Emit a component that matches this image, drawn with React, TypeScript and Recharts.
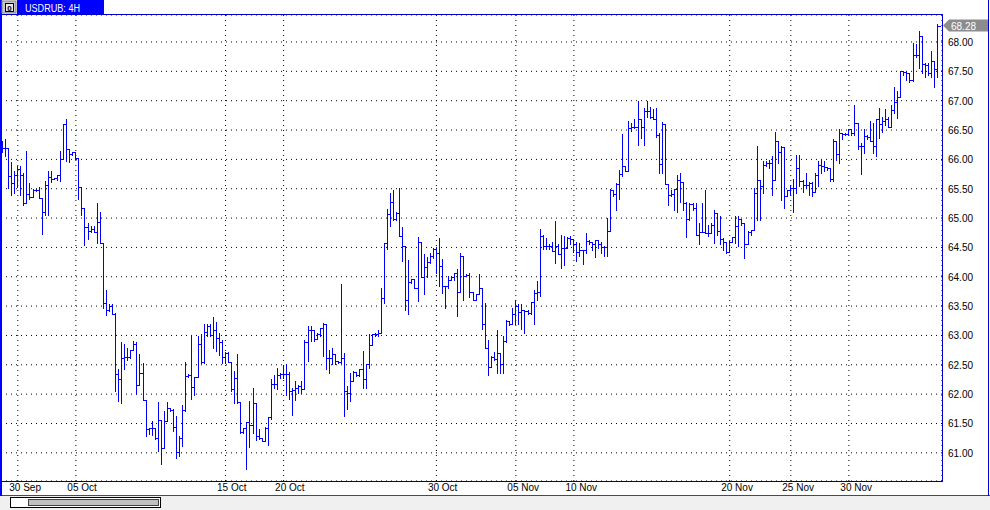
import React from 'react';
import { ComposedChart, Bar, XAxis, YAxis, CartesianGrid, ReferenceLine } from 'recharts';

const opens = [
66.26,66.20,66.20,65.72,65.59,65.74,65.84,65.74,65.25,65.41,
65.36,65.48,65.48,65.35,65.11,65.56,65.70,65.67,65.69,65.74,
66.01,66.60,66.17,66.10,66.13,66.03,65.53,65.18,64.85,64.78,
64.82,64.77,64.94,64.57,63.55,63.44,63.50,63.36,62.34,62.26,
62.62,62.64,62.64,62.75,62.86,62.16,62.36,61.90,61.40,61.43,61.43,61.26,
61.56,61.09,61.54,61.76,61.73,61.44,61.01,61.26,61.73,62.31,
62.32,62.12,62.30,62.85,62.55,63.06,63.16,63.00,63.10,62.96,
62.89,62.64,62.70,62.55,62.09,62.28,61.87,61.35,61.43,61.52,
61.47,61.85,61.28,61.26,61.21,61.43,61.61,62.18,62.18,62.32,
62.35,62.35,62.34,62.06,62.07,62.11,62.14,62.09,62.88,63.10,
63.09,62.94,63.03,63.12,63.20,62.62,62.61,62.68,62.56,62.55,
62.62,62.05,62.02,62.22,62.38,62.32,62.42,62.25,62.52,62.84,
63.02,63.02,63.05,63.64,64.57,65.07,65.27,64.99,65.09,64.70,
64.53,63.61,63.91,63.97,63.81,64.59,64.00,64.17,64.25,64.35,
64.48,64.40,64.19,63.85,63.84,63.95,63.99,64.07,63.74,64.36,
64.01,64.03,63.74,63.61,63.70,63.80,63.20,62.78,62.47,62.63,
62.60,62.70,62.52,62.91,63.24,63.20,63.37,63.50,63.40,63.43,
63.41,63.39,63.57,63.73,63.74,64.69,64.52,64.52,64.53,64.44,
64.53,64.38,64.49,64.49,64.66,64.65,64.55,64.43,64.45,64.45,
64.61,64.59,64.55,64.62,64.56,64.51,64.51,64.78,65.48,65.41,
65.58,65.75,65.88,65.81,66.53,66.56,66.56,66.69,66.55,66.83,
66.82,66.72,66.68,66.42,65.92,66.60,65.58,65.40,65.41,
65.49,65.65,65.61,65.26,64.99,65.24,65.17,64.72,64.76,64.77,
64.74,64.74,64.89,65.09,64.78,64.65,64.60,64.43,64.60,64.67,
64.86,64.99,64.91,64.55,64.76,64.80,65.43,65.65,65.54,
65.90,65.94,65.93,65.65,66.32,66.12,66.21,65.38,65.48,65.51,
65.51,65.86,65.63,65.56,65.56,65.60,65.44,65.74,65.91,65.89,
65.87,65.86,65.66,66.31,66.10,66.45,66.44,66.43,66.51,66.45,
66.62,66.23,66.23,66.39,66.38,66.32,66.23,66.68,66.60,66.65,
66.68,66.55,66.84,66.97,67.06,67.50,67.49,67.47,67.36,67.78,
67.77,68.10,67.63,67.61,67.48,67.68,67.54,
];

const highs = [
66.31,66.34,66.20,65.95,65.80,65.88,65.89,65.76,66.15,65.59,
65.50,65.49,65.53,65.35,65.64,65.80,65.81,65.69,65.74,66.15,
66.60,66.68,66.17,66.13,66.13,66.03,65.53,65.18,64.92,64.86,
64.86,65.26,65.10,64.57,63.77,63.53,63.53,63.38,62.43,62.88,
62.85,62.78,62.76,62.91,62.88,62.69,62.53,61.90,61.43,61.55,61.43,61.86,
61.56,61.71,61.86,61.77,61.74,61.63,61.28,61.81,62.55,62.34,
62.99,62.30,62.99,63.02,63.19,63.20,63.19,63.31,63.23,63.05,
62.93,62.72,62.72,62.55,62.40,62.68,61.87,61.43,61.53,61.89,
62.11,61.85,61.41,61.26,61.44,61.61,62.25,62.32,62.44,62.36,
62.48,62.52,62.38,62.11,62.23,62.15,62.22,62.93,63.16,63.16,
63.07,63.04,63.13,63.22,63.20,62.76,62.79,62.68,62.57,63.88,
62.70,62.14,62.36,62.39,62.38,62.42,62.73,62.52,63.03,63.03,
63.05,63.09,63.81,64.58,65.15,65.43,65.47,65.10,65.52,64.84,
64.53,64.28,63.97,63.97,64.68,64.59,64.39,64.34,64.41,64.49,
64.49,64.66,64.30,63.85,64.01,64.02,64.07,64.14,64.41,64.36,
64.04,64.07,63.74,63.70,64.04,63.80,63.56,62.93,62.65,62.72,
63.09,62.70,62.99,63.27,63.24,63.47,63.61,63.53,63.53,63.44,
63.44,63.57,63.78,63.93,64.82,64.72,64.66,64.55,64.59,64.95,
64.55,64.72,64.69,64.67,64.69,64.65,64.60,64.57,64.46,64.74,
64.63,64.60,64.63,64.63,64.60,64.52,65.00,65.50,65.48,65.60,
65.82,66.43,65.88,66.66,66.62,66.68,66.99,66.68,66.88,66.99,
66.90,66.86,66.88,66.45,66.64,66.60,65.58,65.48,65.50,
65.74,65.77,65.61,65.28,65.26,65.26,65.26,64.91,65.26,65.48,
64.89,64.91,65.14,65.09,65.03,64.66,64.60,64.61,64.67,65.03,
65.03,64.99,64.91,64.78,64.80,65.51,66.22,65.65,65.97,
65.97,65.99,66.06,66.47,66.32,66.22,66.21,65.48,65.57,65.66,
66.08,66.08,65.65,65.77,65.61,65.61,65.77,65.97,66.01,65.97,
65.87,65.86,66.34,66.31,66.51,66.45,66.45,66.52,66.51,66.92,
66.62,66.28,66.51,66.42,66.66,66.62,66.68,66.88,66.73,66.86,
66.73,66.93,67.24,67.16,67.50,67.51,67.50,67.47,67.98,67.97,
68.19,68.10,67.64,67.65,67.84,67.68,68.31,
];

const lows = [
66.13,66.06,65.52,65.39,65.43,65.53,65.39,65.23,65.25,65.32,
65.36,65.46,65.35,64.73,65.05,65.06,65.62,65.66,65.65,65.64,
66.01,65.97,65.95,66.07,66.01,65.33,65.05,64.54,64.65,64.76,
64.76,64.58,64.57,63.47,63.35,63.41,63.36,62.05,61.88,61.85,
62.43,62.58,62.62,62.75,62.01,62.16,61.90,61.28,61.32,61.30,61.24,61.03,
60.81,61.09,61.54,61.72,61.37,60.91,60.94,61.11,61.71,62.30,
61.91,61.98,62.30,62.53,62.53,62.99,62.99,62.79,62.73,62.66,
62.53,62.53,62.55,62.06,61.85,61.85,61.34,61.34,60.73,61.10,
61.33,61.22,61.23,61.20,61.20,61.13,61.58,62.11,62.09,62.28,
62.27,61.99,61.91,61.65,61.90,62.02,62.02,62.09,62.56,62.90,
62.90,62.94,62.99,62.65,62.42,62.36,62.51,62.51,62.53,62.53,
61.62,61.74,61.88,62.22,62.31,62.31,62.11,62.11,62.45,62.84,
62.99,62.99,63.05,63.56,64.47,64.86,64.97,64.97,64.70,64.27,
63.43,63.37,63.90,63.81,63.59,64.00,63.70,64.00,64.24,64.32,
64.07,63.84,63.73,63.47,63.81,63.95,63.95,63.33,63.74,63.60,
64.01,63.66,63.60,63.60,63.70,63.11,62.78,62.32,62.47,62.59,
62.36,62.36,62.36,62.88,63.18,63.20,63.20,63.20,63.11,63.05,
63.36,63.37,63.20,63.61,63.68,64.47,64.47,64.47,64.44,64.24,
64.38,64.15,64.20,64.49,64.55,64.43,64.26,64.35,64.22,64.40,
64.55,64.46,64.33,64.49,64.40,64.35,64.35,64.78,65.37,65.14,
65.33,65.71,65.80,65.81,66.48,66.53,66.25,66.36,66.25,66.72,
66.70,66.68,66.38,65.77,65.77,65.58,65.23,65.37,65.14,
65.11,65.28,65.14,64.68,64.97,65.14,64.72,64.55,64.76,64.74,
64.69,64.74,64.57,64.72,64.55,64.46,64.40,64.43,64.59,64.57,
64.52,64.89,64.32,64.55,64.72,64.80,64.97,64.97,65.43,
65.89,65.85,65.40,65.65,65.94,65.31,65.17,65.38,65.40,65.10,
65.43,65.54,65.45,65.51,65.40,65.38,65.44,65.54,65.77,65.80,
65.82,65.63,65.63,65.99,65.94,66.35,66.42,66.42,66.42,66.42,
66.18,65.75,66.11,66.34,66.31,66.11,66.05,66.36,66.47,66.59,
66.55,66.55,66.79,66.70,67.06,67.44,67.36,67.31,67.33,67.74,
67.56,67.47,67.41,67.43,67.41,67.23,67.41,
];

const closes = [
66.20,66.20,65.72,65.59,65.74,65.84,65.74,65.25,65.41,65.36,
65.48,65.48,65.35,65.11,65.56,65.70,65.67,65.69,65.74,66.01,
66.60,66.17,66.10,66.13,66.03,65.53,65.18,64.85,64.78,64.82,
64.77,64.94,64.57,63.55,63.44,63.50,63.36,62.34,62.26,62.62,
62.64,62.64,62.75,62.86,62.16,62.36,61.90,61.40,61.43,61.43,61.26,61.56,
61.09,61.54,61.76,61.73,61.44,61.01,61.26,61.73,62.31,62.32,
62.12,62.30,62.85,62.55,63.06,63.16,63.00,63.10,62.96,62.89,
62.64,62.70,62.55,62.09,62.28,61.87,61.35,61.43,61.52,61.47,
61.85,61.28,61.26,61.21,61.43,61.61,62.18,62.18,62.32,62.35,
62.35,62.34,62.06,62.07,62.11,62.14,62.09,62.88,63.10,63.09,
62.94,63.03,63.12,63.20,62.62,62.61,62.68,62.56,62.55,62.62,
62.05,62.02,62.22,62.38,62.32,62.42,62.25,62.52,62.84,63.02,
63.02,63.05,63.64,64.57,65.07,65.27,64.99,65.09,64.70,64.53,
63.61,63.91,63.97,63.81,64.59,64.00,64.17,64.25,64.35,64.48,
64.40,64.19,63.85,63.84,63.95,63.99,64.07,63.74,64.36,64.01,
64.03,63.74,63.61,63.70,63.80,63.20,62.78,62.47,62.63,62.60,
62.70,62.52,62.91,63.24,63.20,63.37,63.50,63.40,63.43,63.41,
63.39,63.57,63.73,63.74,64.69,64.52,64.52,64.53,64.44,64.53,
64.38,64.49,64.49,64.66,64.65,64.55,64.43,64.45,64.45,64.61,
64.59,64.55,64.62,64.56,64.51,64.51,64.78,65.48,65.41,65.58,
65.75,65.88,65.81,66.53,66.56,66.56,66.69,66.55,66.83,66.82,
66.72,66.68,66.42,65.92,66.60,65.58,65.40,65.41,65.49,
65.65,65.61,65.26,64.99,65.24,65.17,64.72,64.76,64.77,64.74,
64.74,64.89,65.09,64.78,64.65,64.60,64.43,64.60,64.67,64.86,
64.99,64.91,64.55,64.76,64.80,65.43,65.65,65.54,65.90,
65.94,65.93,65.65,66.32,66.12,66.21,65.38,65.48,65.51,65.51,
65.86,65.63,65.56,65.56,65.60,65.44,65.74,65.91,65.89,65.87,
65.86,65.66,66.31,66.10,66.45,66.44,66.43,66.51,66.45,66.62,
66.23,66.23,66.39,66.38,66.32,66.23,66.68,66.60,66.65,66.68,
66.55,66.84,66.97,67.06,67.50,67.49,67.47,67.36,67.78,67.77,
68.10,67.63,67.61,67.48,67.68,67.54,68.28,
];

const dateLabels = ['30 Sep', '05 Oct', '15 Oct', '20 Oct', '30 Oct', '05 Nov', '10 Nov', '20 Nov', '25 Nov', '30 Nov'];
const dateBars = [5, 24, 73, 92, 142, 168, 187, 238, 258, 277];
const priceTicks = [61.0, 61.5, 62.0, 62.5, 63.0, 63.5, 64.0, 64.5, 65.0, 65.5, 66.0, 66.5, 67.0, 67.5, 68.0];
const priceDomain = [60.52, 68.46];
const symbolTitle = 'USDRUB: 4H';

const lastPrice = closes[closes.length - 1];

const data = closes.map((c, i) => ({
  i,
  o: opens[i],
  h: highs[i],
  l: lows[i],
  c,
  range: [lows[i], highs[i]],
}));

const FONT = '"Liberation Sans", Arial, sans-serif';
const BAR_COLOR = '#0000ff';

const OhlcShape = (props: any) => {
  const { x, y, width, height, payload } = props;
  if (!payload || x == null || y == null) return null;
  const { o, h, l, c } = payload;
  const yTop = Math.min(y, y + height);
  const yBot = Math.max(y, y + height);
  const span = h - l;
  const k = span > 0 ? (yBot - yTop) / span : 0;
  const py = (v: number) => yTop + (h - v) * k;
  const cx = Math.floor(x + width / 2) + 0.5;
  const yO = py(o);
  const yC = py(c);
  const top = Math.min(yTop, yO, yC);
  const bot = Math.max(yBot, yO, yC);
  const r = (v: number) => Math.round(v) + 0.5;
  return (
    <g stroke={BAR_COLOR} strokeWidth={1} shapeRendering="crispEdges" fill="none">
      <line x1={cx} x2={cx} y1={Math.round(top)} y2={Math.round(bot) + 1} />
      <line x1={cx - 3} x2={cx} y1={r(yO)} y2={r(yO)} />
      <line x1={cx} x2={cx + 3} y1={r(yC)} y2={r(yC)} />
    </g>
  );
};

const DateTick = (props: any) => {
  const { x, payload } = props;
  const idx = dateBars.indexOf(payload.value);
  if (idx < 0) return null;
  return (
    <text x={x - 8.5} y={491} fontSize={10} fill="#000" fontFamily={FONT}>
      {dateLabels[idx]}
    </text>
  );
};

const PriceTick = (props: any) => {
  const { y, payload } = props;
  return (
    <text x={948} y={y + 4} fontSize={10} fill="#000" fontFamily={FONT}>
      {Number(payload.value).toFixed(2)}
    </text>
  );
};

const PriceTag = (props: any) => {
  const vb = props.viewBox || {};
  const yy = vb.y;
  if (yy == null) return null;
  const xl = (vb.x || 0) + (vb.width || 0) + 1;
  const top = yy - 6;
  const bot = yy + 6;
  return (
    <g>
      <polygon
        points={`${xl},${yy} ${xl + 6},${top} 988,${top} 988,${bot} ${xl + 6},${bot}`}
        fill="#8c8c8c"
      />
      <text x={xl + 8} y={yy + 4} fontSize={10} fill="#fff" fontFamily={FONT}>
        {lastPrice.toFixed(2)}
      </text>
    </g>
  );
};

export default function App() {
  return (
    <div
      style={{
        position: 'absolute',
        left: 0,
        top: 0,
        width: 990,
        height: 510,
        background: '#fff',
        overflow: 'hidden',
        fontFamily: FONT,
      }}
    >
      <ComposedChart
        width={990}
        height={510}
        data={data}
        margin={{ top: 15, right: 0, bottom: 15, left: 1 }}
        barCategoryGap={0}
      >
        <CartesianGrid stroke="#000" strokeDasharray="1 4" horizontal vertical />
        <XAxis
          dataKey="i"
          type="category"
          ticks={dateBars}
          interval={0}
          height={14}
          tickLine={false}
          axisLine={false}
          tickSize={0}
          padding={{ left: 0, right: 3 }}
          tick={<DateTick />}
        />
        <YAxis
          orientation="right"
          type="number"
          domain={priceDomain}
          ticks={priceTicks}
          allowDataOverflow
          width={48}
          tickLine={false}
          axisLine={false}
          tickSize={0}
          tick={<PriceTick />}
        />
        <Bar dataKey="range" isAnimationActive={false} shape={<OhlcShape />} />
        <ReferenceLine y={lastPrice} stroke="none" ifOverflow="visible" label={<PriceTag />} />
      </ComposedChart>
      <svg
        width={990}
        height={510}
        style={{ position: 'absolute', left: 0, top: 0, pointerEvents: 'none' }}
      >
        <rect x={0} y={496} width={990} height={14} fill="#f0f0f0" />
        <line x1={0} x2={990} y1={495.5} y2={495.5} stroke="#1f4fa0" />
        <line x1={0} x2={943} y1={481.5} y2={481.5} stroke="#000080" />
        <line x1={942.5} x2={942.5} y1={14} y2={482} stroke="#0000cc" />
        <line x1={0} x2={943} y1={14.5} y2={14.5} stroke="#0000cc" />
        <rect x={0} y={0} width={2} height={496} fill="#0000ff" />
        <line x1={988.5} x2={988.5} y1={0} y2={496} stroke="#0000cc" />
        <rect x={10.5} y={497.5} width={150} height={10} fill="#ffffff" stroke="#000" />
        <rect x={28.5} y={499.5} width={130} height={6} fill="#c0c0c0" stroke="#404040" />
        <rect x={2} y={1} width={14} height={12} fill="#c8c8c8" stroke="#808080" />
        <rect x={5.5} y={3.5} width={8} height={8} fill="#e8e8e8" stroke="#000" />
        <text x={9.5} y={10.5} fontSize={8} fontWeight="bold" textAnchor="middle" fill="#000" fontFamily={FONT}>
          0
        </text>
        <rect x={17} y={0} width={87} height={14} fill="#0000ff" />
        <text
          x={25}
          y={11.5}
          fontSize={10}
          fill="#fff"
          fontFamily={FONT}
          textLength={55}
          lengthAdjust="spacingAndGlyphs"
        >
          {symbolTitle}
        </text>
      </svg>
    </div>
  );
}
